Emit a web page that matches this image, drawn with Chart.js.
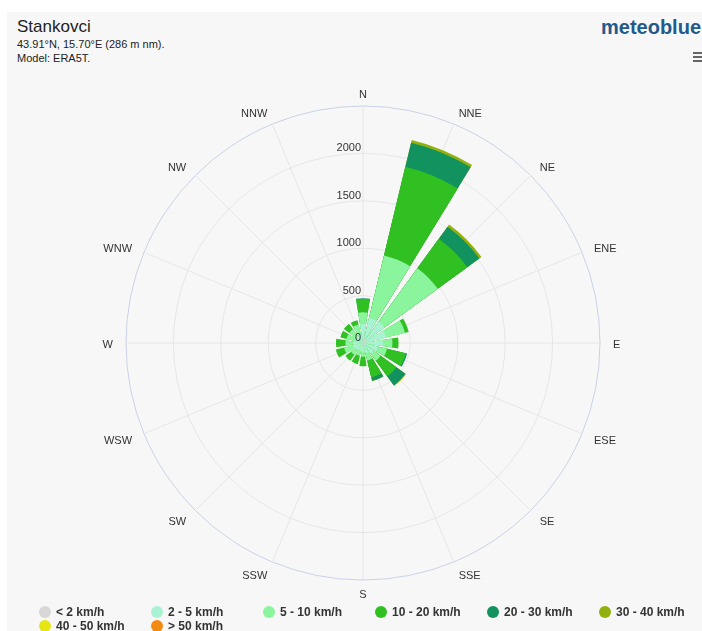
<!DOCTYPE html>
<html>
<head>
<meta charset="utf-8">
<title>Stankovci – роза ветров</title>
<script src="https://cdn.jsdelivr.net/npm/chart.js@4.4.1/dist/chart.umd.min.js"></script>
<style>
    body {
        margin: 0;
        width: 702px;
        height: 631px;
        position: relative;
        overflow: hidden;
        background: #fff;
        font-family: "Liberation Sans", Arial, sans-serif;
        color: #333;
    }
    #panel { position: absolute; left: 7px; top: 12px; right: 0; bottom: 0; background: #f7f7f7; }
    #chart { position: absolute; left: 0; top: 0; }
    #title { position: absolute; left: 17px; top: 18px; font-size: 17px; line-height: 17px; color: #222; }
    #subtitle { position: absolute; left: 17px; top: 37px; font-size: 11px; line-height: 14px; color: #222; }
    #logo { position: absolute; left: 601px; top: 15px; font-size: 20px; line-height: 24px; font-weight: bold; color: #225a8c; white-space: nowrap; }
    #menu { position: absolute; left: 693px; top: 52px; width: 12px; }
    #menu div { height: 2px; background: #666; margin-bottom: 2px; }
    #legend { position: absolute; left: 39px; top: 605px; width: 680px; font-size: 12px; font-weight: bold; color: #333; }
    .item { position: absolute; height: 14px; line-height: 14px; white-space: nowrap; }
    .item span.dot { position: absolute; left: 0; top: 1px; width: 12px; height: 12px; border-radius: 50%; }
    .item span.txt { position: absolute; left: 17px; top: 0; }
</style>
</head>
<body>
<div id="panel"></div>
<div id="title">Stankovci</div>
<div id="subtitle">43.91°N, 15.70°E (286 m nm).<br>Model: ERA5T.</div>
<div id="logo">meteoblue</div>
<div id="menu"><div></div><div></div><div></div></div>
<canvas id="chart" width="702" height="631"></canvas>
<div id="legend"></div>
<script>
// Направления ветра (по часовой стрелке от севера)
const directions = ['N', 'NNE', 'NE', 'ENE', 'E', 'ESE', 'SE', 'SSE',
                    'S', 'SSW', 'SW', 'WSW', 'W', 'WNW', 'NW', 'NNW'];

// Классы скорости и их цвета
const speedClasses = ['< 2 km/h', '2 - 5 km/h', '5 - 10 km/h', '10 - 20 km/h',
                      '20 - 30 km/h', '30 - 40 km/h', '40 - 50 km/h', '> 50 km/h'];
const classColors = ['#d9d6d6', '#a9f3d4', '#8af59c', '#31c022',
                     '#12925f', '#93b10e', '#e6e614', '#f38b12'];

// Часы в году по направлениям, для каждого класса скорости
const speedBelow2 = [30, 50, 50, 40, 35, 30, 25, 20, 20, 20, 20, 20, 20, 20, 20, 20];
const speed2to5   = [170, 225, 230, 210, 175, 130, 115, 90, 70, 60, 70, 90, 80, 70, 70, 80];
const speed5to10  = [124, 675, 695, 205, 100, 100, 90, 80, 55, 60, 65, 95, 85, 90, 90, 100];
const speed10to20 = [140, 962, 385, 40, 65, 205, 205, 185, 100, 90, 75, 90, 100, 65, 70, 48];
const speed20to30 = [8, 261, 157, 0, 0, 13, 118, 35, 0, 0, 0, 0, 0, 0, 0, 0];
const speed30to40 = [0, 28, 28, 0, 0, 0, 5, 4, 0, 0, 0, 0, 0, 0, 0, 0];
const speed40to50 = [0, 0, 0, 0, 0, 0, 3, 0, 0, 0, 0, 0, 0, 0, 0, 0];
const speedAbove50 = [0, 0, 0, 0, 0, 0, 0, 0, 0, 0, 0, 0, 0, 0, 0, 0];

// Подписи радиальной шкалы
const tickValues = [0, 500, 1000, 1500, 2000];
const axisMax = 2500;

const series = [speedBelow2, speed2to5, speed5to10, speed10to20,
                speed20to30, speed30to40, speed40to50, speedAbove50];

// Накопленные суммы: polarArea не умеет стекать, поэтому рисуем
// каждый класс от центра, а меньшие суммы ложатся поверх больших
const running = directions.map(() => 0);
const datasets = series.map((values, k) => {
    const data = values.map((v, i) => {
        running[i] += v;
        return v === 0 && k > 0 ? 0 : running[i];
    });
    return {
        label: speedClasses[k],
        data: data,
        backgroundColor: classColors[k],
        borderWidth: 0
    };
});

const barWidthShare = 0.8;

// Сужение секторов, сетка направлений и подписи
const roseDecor = {
    id: 'roseDecor',
    afterDatasetsUpdate(chart) {
        chart.data.datasets.forEach((ds, i) => {
            chart.getDatasetMeta(i).data.forEach(arc => {
                const mid = (arc.startAngle + arc.endAngle) / 2;
                const half = (arc.endAngle - arc.startAngle) / 2 * barWidthShare;
                arc.startAngle = mid - half;
                arc.endAngle = mid + half;
            });
        });
    },
    beforeDatasetsDraw(chart) {
        const scale = chart.scales.r;
        const ctx = chart.ctx;
        const cx = scale.xCenter, cy = scale.yCenter, r = scale.drawingArea;
        ctx.save();
        ctx.strokeStyle = '#e6e6e6';
        ctx.lineWidth = 1;
        directions.forEach((d, i) => {
            const a = i * Math.PI / 8;
            ctx.beginPath();
            ctx.moveTo(cx, cy);
            ctx.lineTo(cx + r * Math.sin(a), cy - r * Math.cos(a));
            ctx.stroke();
        });
        ctx.restore();
    },
    afterDatasetsDraw(chart) {
        const scale = chart.scales.r;
        const ctx = chart.ctx;
        const cx = scale.xCenter, cy = scale.yCenter, r = scale.drawingArea;
        ctx.save();
        ctx.fillStyle = '#333';
        ctx.font = '11px "Liberation Sans", Arial, sans-serif';
        ctx.textBaseline = 'middle';

        // значения по оси
        ctx.textAlign = 'right';
        tickValues.forEach(v => {
            const d = scale.getDistanceFromCenterForValue(v);
            ctx.fillText(String(v), cx - 2, cy - d - 5);
        });

        // направления
        directions.forEach((d, i) => {
            const a = i * Math.PI / 8;
            const s = Math.sin(a);
            ctx.textAlign = s > 0.01 ? 'left' : (s < -0.01 ? 'right' : 'center');
            ctx.fillText(d, cx + (r + 13) * s, cy - (r + 13) * Math.cos(a) + 2);
        });
        ctx.restore();
    }
};

new Chart(document.getElementById('chart'), {
    type: 'polarArea',
    data: {
        labels: directions,
        datasets: datasets
    },
    options: {
        responsive: false,
        animation: false,
        layout: {
            padding: { left: 126, top: 106, right: 102, bottom: 51 }
        },
        plugins: {
            legend: { display: false },
            tooltip: { enabled: false }
        },
        scales: {
            r: {
                min: 0,
                max: axisMax,
                startAngle: -11.25,
                ticks: { display: false, stepSize: 500 },
                pointLabels: { display: false },
                angleLines: { display: false },
                grid: {
                    circular: true,
                    color: ctx => ctx.tick && ctx.tick.value === axisMax ? '#c9d1e8' : '#e6e6e6'
                }
            }
        }
    },
    plugins: [roseDecor]
});

// Легенда
const legend = document.getElementById('legend');
speedClasses.forEach((name, k) => {
    const item = document.createElement('div');
    item.className = 'item';
    item.style.left = (112 * (k % 6)) + 'px';
    item.style.top = (14 * Math.floor(k / 6)) + 'px';
    item.innerHTML = '<span class="dot" style="background:' + classColors[k] + '"></span>' +
                     '<span class="txt">' + name + '</span>';
    legend.appendChild(item);
});
</script>
</body>
</html>
